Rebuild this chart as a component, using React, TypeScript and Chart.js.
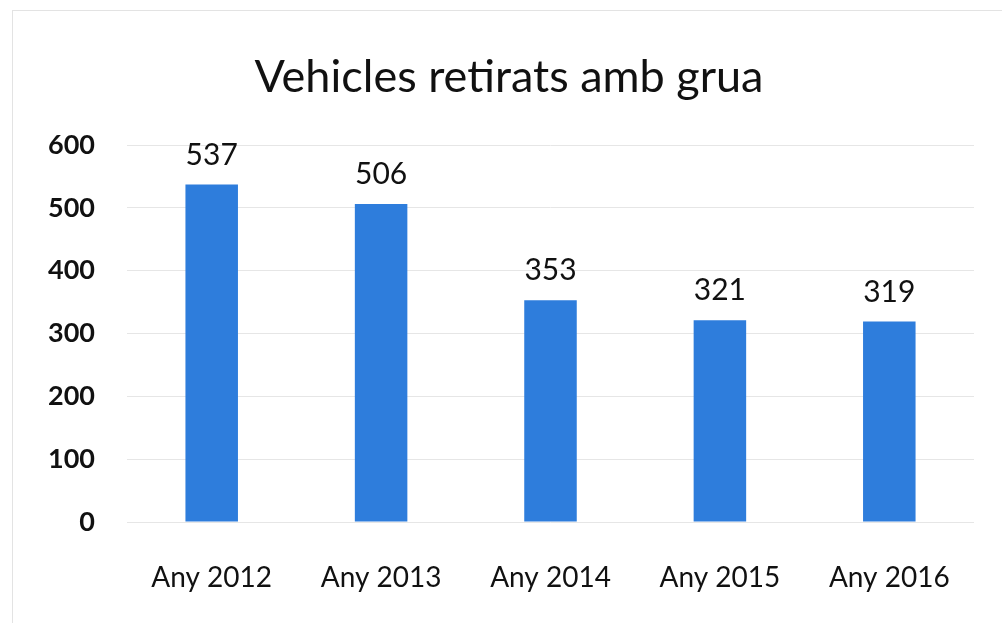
import React, { useEffect, useRef } from "react";
import { Chart, registerables } from "chart.js";

Chart.register(...registerables);

const TITLE = "Vehicles retirats amb grua";
const categories = ["Any 2012", "Any 2013", "Any 2014", "Any 2015", "Any 2016"];
const values = [537, 506, 353, 321, 319];
const yTicks = [0, 100, 200, 300, 400, 500, 600];

const FONT = "Lato, 'Open Sans', sans-serif";
const BAR_COLOR = "#2E7DDC";

const dataLabels = {
  id: "dataLabels",
  afterDatasetsDraw(chart: any) {
    const ctx = chart.ctx;
    const meta = chart.getDatasetMeta(0);
    ctx.save();
    ctx.font = `30px ${FONT}`;
    ctx.fillStyle = "#111";
    ctx.textAlign = "center";
    ctx.textBaseline = "alphabetic";
    meta.data.forEach((bar: any, i: number) => {
      ctx.fillText(String(values[i]), bar.x, bar.y - 20);
    });
    ctx.restore();
  },
};

const titlePlugin = {
  id: "customTitle",
  afterDraw(chart: any) {
    const ctx = chart.ctx;
    ctx.save();
    ctx.font = `45px ${FONT}`;
    ctx.fillStyle = "#111";
    ctx.textAlign = "center";
    ctx.textBaseline = "alphabetic";
    ctx.fillText(TITLE, 509, 92);
    ctx.restore();
  },
};

export default function App() {
  const ref = useRef<HTMLCanvasElement>(null);
  useEffect(() => {
    document.body.style.margin = "0";
    const chart = new Chart(ref.current!, {
      type: "bar",
      data: {
        labels: categories,
        datasets: [
          {
            data: values,
            backgroundColor: BAR_COLOR,
            barPercentage: 0.31,
            categoryPercentage: 1,
          },
        ],
      },
      options: {
        animation: false,
        responsive: false,
        layout: { padding: { top: 145, right: 28, bottom: 0, left: 0 } },
        plugins: { legend: { display: false }, tooltip: { enabled: false } },
        scales: {
          x: {
            grid: { display: false, drawTicks: false },
            border: { display: false },
            ticks: { padding: 39, color: "#111", font: { family: FONT, size: 28 } },
            afterFit(scale: any) {
              scale.height = 101;
            },
          },
          y: {
            min: 0,
            max: 600,
            afterBuildTicks(scale: any) {
              scale.ticks = yTicks.map((v) => ({ value: v }));
            },
            grid: { color: "#e6e6e6", lineWidth: 1, drawTicks: false },
            border: { display: false },
            ticks: {
              padding: 32,
              color: "#111",
              font: { family: FONT, size: 27, weight: "bold" },
            },
            afterFit(scale: any) {
              scale.width = 127;
            },
          },
        },
      },
      plugins: [dataLabels, titlePlugin],
    });
    return () => chart.destroy();
  }, []);
  return (
    <div style={{ position: "relative", width: 1002, height: 623, background: "#fff" }}>
      <div
        style={{
          position: "absolute",
          left: 12,
          top: 10,
          right: 0,
          bottom: 0,
          borderTop: "1px solid #e3e3e3",
          borderLeft: "1px solid #e3e3e3",
        }}
      />
      <canvas ref={ref} width={1002} height={623} style={{ position: "absolute", left: 0, top: 0 }} />
    </div>
  );
}
